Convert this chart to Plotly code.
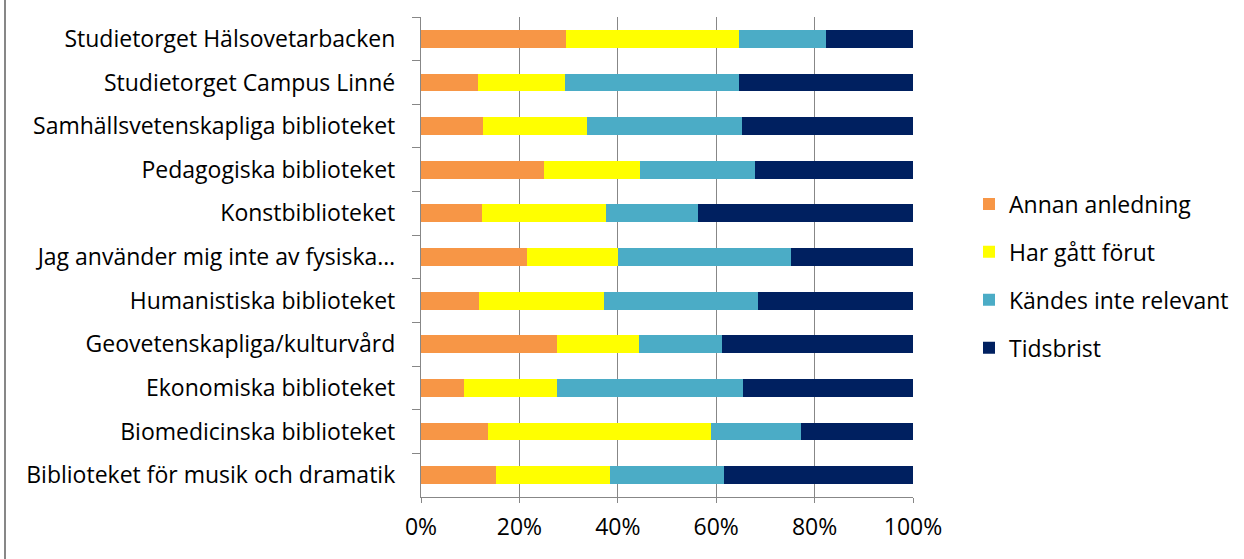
import plotly.graph_objects as go

categories = [
    "Studietorget Hälsovetarbacken",
    "Studietorget Campus Linné",
    "Samhällsvetenskapliga biblioteket",
    "Pedagogiska biblioteket",
    "Konstbiblioteket",
    "Jag använder mig inte av fysiska…",
    "Humanistiska biblioteket",
    "Geovetenskapliga/kulturvård",
    "Ekonomiska biblioteket",
    "Biomedicinska biblioteket",
    "Biblioteket för musik och dramatik",
]

annan = [29.4, 11.6, 12.5, 25.1, 12.3, 21.5, 11.7, 27.7, 8.7, 13.6, 15.3]
har_gatt = [35.2, 17.7, 21.2, 19.5, 25.2, 18.6, 25.5, 16.7, 19.0, 45.4, 23.1]
kandes = [17.7, 35.3, 31.6, 23.3, 18.7, 35.2, 31.2, 16.7, 37.8, 18.3, 23.1]
tidsbrist = [17.7, 35.4, 34.7, 32.1, 43.8, 24.7, 31.6, 38.9, 34.5, 22.7, 38.5]

series = [
    ("Annan anledning", annan, "#F79646"),
    ("Har gått förut", har_gatt, "#FFFF00"),
    ("Kändes inte relevant", kandes, "#4BACC6"),
    ("Tidsbrist", tidsbrist, "#002060"),
]

x_ticks = [0, 20, 40, 60, 80, 100]
x_tick_labels = ["0%", "20%", "40%", "60%", "80%", "100%"]

FONT = "Open Sans, sans-serif"
FS = 23

fig = go.Figure()
for i, (name, vals, color) in enumerate(series):
    fig.add_trace(go.Bar(
        y=categories, x=vals, name=name, orientation="h",
        marker=dict(color=color, line=dict(width=0)),
        legendgroup=f"g{i}",
    ))

W, H = 1244, 559
L, R, T, B = 421, 331, 17, 62
plot_w = W - L - R
plot_h = H - T - B

fig.update_layout(
    width=W, height=H,
    barmode="stack",
    bargap=0.59,
    margin=dict(l=L, r=R, t=T, b=B, pad=0, autoexpand=False),
    paper_bgcolor="white",
    plot_bgcolor="white",
    font=dict(family=FONT, size=FS, color="#000000"),
    legend=dict(
        x=(969 - L) / plot_w, y=(H - B - 276) / plot_h, xanchor="left", yanchor="middle",
        traceorder="grouped", tracegroupgap=15,
        font=dict(family=FONT, size=FS, color="#000000"),
        itemwidth=30,
    ),
    xaxis=dict(
        range=[0, 100], tickvals=x_ticks, ticktext=x_tick_labels,
        showgrid=True, gridcolor="#878787", gridwidth=1.3,
        showline=True, linecolor="#878787", linewidth=1.3,
        ticks="outside", ticklen=5, tickcolor="#878787",
        zeroline=False, fixedrange=True, ticklabelstandoff=4,
    ),
    yaxis=dict(
        type="category", autorange="reversed",
        showline=True, linecolor="#878787", linewidth=1.3,
        ticks="outside", ticklen=8, tickcolor="#878787", tickson="boundaries",
        showgrid=False, ticklabelstandoff=20, fixedrange=True,
    ),
    shapes=[dict(
        type="line", xref="paper", yref="paper",
        x0=(5 - L) / plot_w, x1=(5 - L) / plot_w,
        y0=-B / plot_h, y1=1 + T / plot_h,
        line=dict(color="#878787", width=2),
    )],
)

fig.write_html(
    "out.html",
    config={"displayModeBar": False},
    post_script="document.body.style.margin='0';document.body.style.overflow='hidden';",
)
